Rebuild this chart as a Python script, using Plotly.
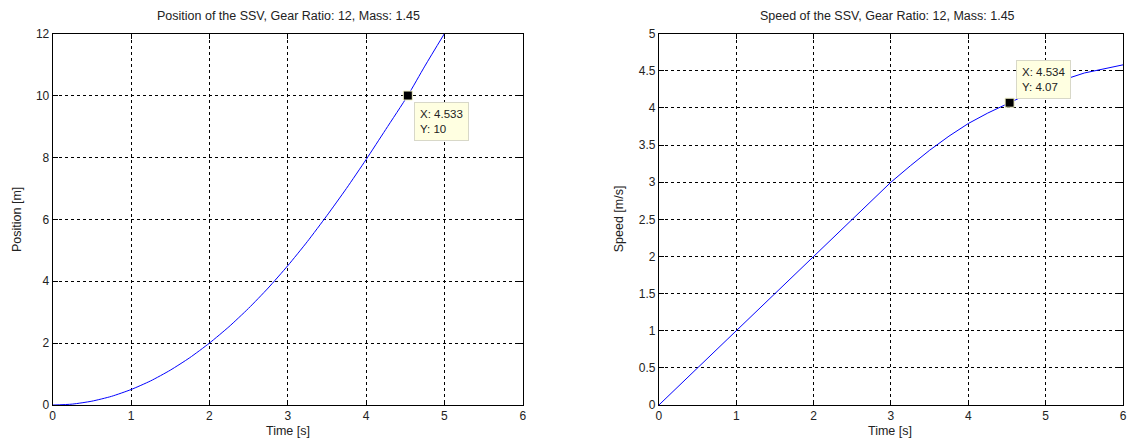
import plotly.graph_objects as go

# ---- data ----
pos_time = [0, 0.25, 0.5, 0.75, 1.0, 1.25, 1.5, 1.75, 2.0, 2.25, 2.5, 2.75, 3.0,
            3.25, 3.5, 3.75, 4.0, 4.25, 4.533, 4.75, 5.0]
pos_vals = [0, 0.03, 0.125, 0.28, 0.5, 0.78, 1.125, 1.53, 2.0, 2.53, 3.125, 3.78, 4.5,
            5.28, 6.12, 7.0, 7.93, 8.9, 10.0, 10.95, 12.0]

spd_time = [0, 0.5, 1.0, 1.5, 2.0, 2.5, 3.0, 3.25, 3.5, 3.75, 4.0, 4.25, 4.534, 5.0, 5.5, 6.0]
spd_vals = [0, 0.5, 1.0, 1.5, 2.0, 2.5, 3.0, 3.22, 3.43, 3.62, 3.79, 3.93, 4.07, 4.30, 4.47, 4.58]

tip_pos = (4.533, 10)
tip_spd = (4.534, 4.07)

titles = ["Position of the SSV, Gear Ratio: 12, Mass: 1.45",
          "Speed of the SSV, Gear Ratio: 12, Mass: 1.45"]
xlabel = "Time [s]"
ylabels = ["Position [m]", "Speed [m/s]"]

W, H = 1127, 444
FONT = "Liberation Sans, Arial, sans-serif"
TXT = "#222222"

def fx(px):
    return min(px / W, 1.0)

def fy(py):
    return 1 - py / H

fig = go.Figure()

fig.add_trace(go.Scatter(x=pos_time, y=pos_vals, mode="lines",
                         line=dict(color="#0000ff", width=1, shape="spline", smoothing=0.6),
                         xaxis="x", yaxis="y", showlegend=False, hoverinfo="skip"))
fig.add_trace(go.Scatter(x=spd_time, y=spd_vals, mode="lines",
                         line=dict(color="#0000ff", width=1),
                         xaxis="x2", yaxis="y2", showlegend=False, hoverinfo="skip"))
# data-tip markers
for (tx, ty), xa, ya in [(tip_pos, "x", "y"), (tip_spd, "x2", "y2")]:
    fig.add_trace(go.Scatter(x=[tx], y=[ty], mode="markers",
                             marker=dict(symbol="square", size=9, color="black",
                                         line=dict(color="#f2f2c8", width=1)),
                             xaxis=xa, yaxis=ya, showlegend=False, hoverinfo="skip"))

ax_common = dict(showline=True, linecolor="black", linewidth=1, mirror="ticks",
                 ticks="inside", ticklen=5, tickcolor="black",
                 showgrid=True, gridcolor="black", gridwidth=1, griddash="3px,3px",
                 zeroline=False, tickfont=dict(family=FONT, size=12, color=TXT),
                 fixedrange=True)

ydom = [fy(411), fy(27.5)]
fig.update_layout(
    width=W, height=H,
    margin=dict(l=0, r=0, t=0, b=0),
    paper_bgcolor="white", plot_bgcolor="white",
    font=dict(family=FONT, color=TXT),
    xaxis=dict(domain=[fx(50), fx(523)], range=[0, 6], dtick=1, anchor="y", **ax_common),
    yaxis=dict(domain=ydom, range=[0, 12], dtick=2, anchor="x", **ax_common),
    xaxis2=dict(domain=[fx(660), 1.0], range=[0, 6], dtick=1, anchor="y2", **ax_common),
    yaxis2=dict(domain=ydom, range=[0, 5], dtick=0.5, anchor="x2", **ax_common),
)

ann = []
for cx, t in [(287, titles[0]), (890, titles[1])]:
    ann.append(dict(text=t, x=fx(cx), y=fy(9.5), xref="paper", yref="paper",
                    showarrow=False, xanchor="center", yanchor="middle",
                    font=dict(family=FONT, size=12.5, color=TXT)))
for cx in [287, 893]:
    ann.append(dict(text=xlabel, x=fx(cx), y=fy(438), xref="paper", yref="paper",
                    showarrow=False, xanchor="center", yanchor="middle",
                    font=dict(family=FONT, size=12.5, color=TXT)))
for cx, t in [(14, ylabels[0]), (620, ylabels[1])]:
    ann.append(dict(text=t, x=fx(cx), y=fy(219), xref="paper", yref="paper",
                    showarrow=False, xanchor="center", yanchor="middle", textangle=-90,
                    font=dict(family=FONT, size=12.5, color=TXT)))

# data tips
ann.append(dict(text="X: 4.533<br>Y: 10", x=tip_pos[0], y=tip_pos[1], xref="x", yref="y",
                showarrow=False, xanchor="left", yanchor="top", xshift=6, yshift=-6,
                align="left", bgcolor="#ffffe1", bordercolor="#d8d8c8", borderwidth=1,
                borderpad=5, font=dict(family=FONT, size=11.5, color=TXT)))
ann.append(dict(text="X: 4.534<br>Y: 4.07", x=tip_spd[0], y=tip_spd[1], xref="x2", yref="y2",
                showarrow=False, xanchor="left", yanchor="bottom", xshift=6, yshift=4,
                align="left", bgcolor="#ffffe1", bordercolor="#d8d8c8", borderwidth=1,
                borderpad=5, font=dict(family=FONT, size=11.5, color=TXT)))

fig.update_layout(annotations=ann)
fig.write_html("out.html")
